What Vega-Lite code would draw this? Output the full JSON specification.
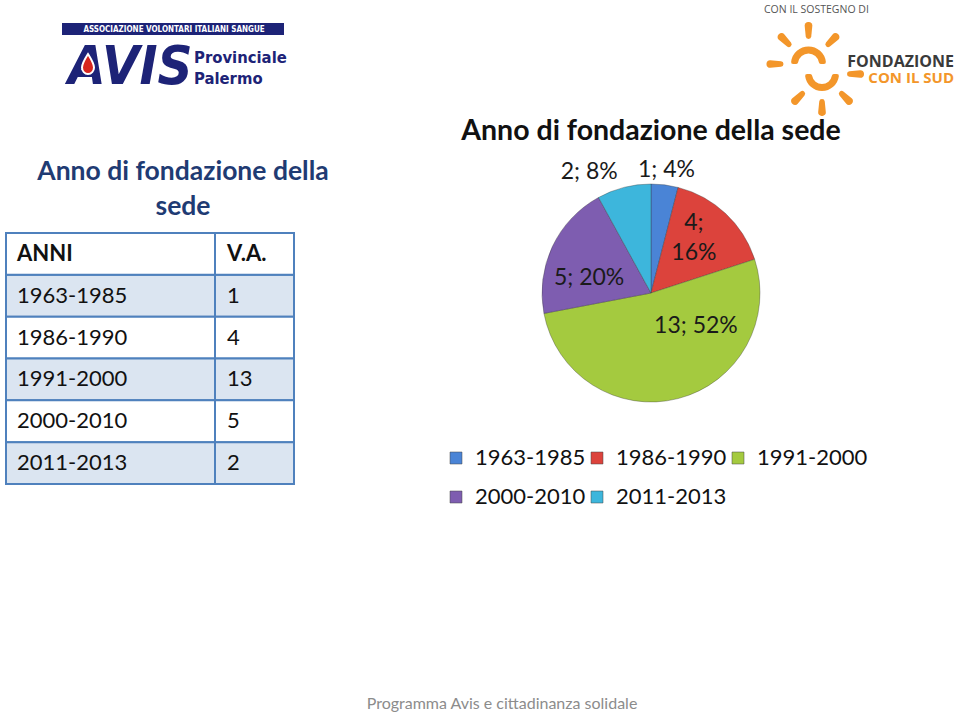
{
  "$schema": "https://vega.github.io/schema/vega-lite/v6.json",
  "padding": {"left": 5, "top": 0, "right": 0, "bottom": 0},
  "background": "white",
  "config": {"view": {"stroke": null}, "font": "Lato"},
  "datasets": {
    "dati": [
      {"anni": "1963-1985", "va": 1, "label": "1; 4%"},
      {"anni": "1986-1990", "va": 4, "label": "4; 16%"},
      {"anni": "1991-2000", "va": 13, "label": "13; 52%"},
      {"anni": "2000-2010", "va": 5, "label": "5; 20%"},
      {"anni": "2011-2013", "va": 2, "label": "2; 8%"}
    ],
    "raggi": [
      {"i": 0, "part": "ray", "v": 2}, {"i": 1, "part": "gap", "v": 5.854},
      {"i": 2, "part": "ray", "v": 2}, {"i": 3, "part": "gap", "v": 5.854},
      {"i": 4, "part": "ray", "v": 2}, {"i": 5, "part": "gap", "v": 5.854},
      {"i": 6, "part": "ray", "v": 2}, {"i": 7, "part": "gap", "v": 5.854}
    ]
  },
  "spacing": 0,
  "bounds": "flush",
  "hconcat": [
    {
      "width": 335,
      "height": 717,
      "layer": [
        {"data": {"values": [{}]}, "mark": {"type": "rect", "fill": "#1D2377"},
         "encoding": {"x": {"value": 56}, "x2": {"value": 278}, "y": {"value": 23}, "y2": {"value": 35}}},
        {"data": {"values": [{}]}, "mark": {"type": "text", "text": "ASSOCIAZIONE VOLONTARI ITALIANI SANGUE", "x": 168, "y": 29.5, "align": "center", "baseline": "middle", "fontSize": 8, "fontWeight": "bold", "fill": "#FFFFFF", "font": "DejaVu Sans Condensed, sans-serif"}},
        {"data": {"values": [{}]}, "mark": {"type": "text", "text": "AVIS", "x": 62, "y": 84, "align": "left", "baseline": "alphabetic", "fontSize": 54, "fontWeight": "bold", "fontStyle": "italic", "fill": "#1D2377", "font": "DejaVu Sans Condensed, sans-serif"}},
        {"data": {"values": [{}]}, "mark": {"type": "point", "filled": true, "fill": "#D7261E", "stroke": "#FFFFFF", "strokeWidth": 2, "opacity": 1, "size": 400, "x": 82, "y": 64,
          "shape": "M0,-1C0.35,-0.45,0.6,-0.05,0.6,0.35C0.6,0.72,0.33,1,0,1C-0.33,1,-0.6,0.72,-0.6,0.35C-0.6,-0.05,-0.35,-0.45,0,-1Z"}},
        {"data": {"values": [{}]}, "mark": {"type": "text", "text": "Provinciale", "x": 188, "y": 63, "align": "left", "baseline": "alphabetic", "fontSize": 16.5, "fontWeight": "bold", "fill": "#1D2377", "font": "DejaVu Sans Condensed, sans-serif"}},
        {"data": {"values": [{}]}, "mark": {"type": "text", "text": "Palermo", "x": 188, "y": 84, "align": "left", "baseline": "alphabetic", "fontSize": 16.5, "fontWeight": "bold", "fill": "#1D2377", "font": "DejaVu Sans Condensed, sans-serif"}},
        {"data": {"values": [{}]},
         "mark": {"type": "text", "text": ["Anno di fondazione della", "sede"], "x": 177, "y": 180, "align": "center", "baseline": "alphabetic", "fontSize": 26.5, "fontWeight": "bold", "fill": "#1F3B73", "lineHeight": 35}},
        {"data": {"name": "dati"},
         "mark": {"type": "rect", "stroke": "#4F81BD", "strokeWidth": 2},
         "encoding": {
           "x": {"value": 0}, "x2": {"value": 288},
           "y": {"field": "anni", "type": "nominal", "axis": null,
                 "scale": {"domain": ["ANNI", "1963-1985", "1986-1990", "1991-2000", "2000-2010", "2011-2013"], "range": [233, 484], "paddingInner": 0, "paddingOuter": 0}},
           "fill": {"condition": {"test": "datum.anni == '1963-1985' || datum.anni == '1991-2000' || datum.anni == '2011-2013'", "value": "#DBE5F1"}, "value": "#FFFFFF"}
         }},
        {"data": {"values": [{"anni": "ANNI", "va": "V.A."}]},
         "mark": {"type": "rect", "fill": "#FFFFFF", "stroke": "#4F81BD", "strokeWidth": 2},
         "encoding": {"x": {"value": 0}, "x2": {"value": 288}, "y": {"field": "anni", "type": "nominal"}}},
        {"data": {"values": [{}]},
         "mark": {"type": "rule", "stroke": "#4F81BD", "strokeWidth": 2},
         "encoding": {"x": {"value": 209}, "y": {"value": 233}, "y2": {"value": 484}}},
        {"data": {"name": "dati"},
         "mark": {"type": "text", "align": "left", "baseline": "middle", "fontSize": 22, "fill": "#111111", "x": 11},
         "encoding": {"y": {"field": "anni", "type": "nominal"}, "text": {"field": "anni", "type": "nominal"}}},
        {"data": {"name": "dati"},
         "mark": {"type": "text", "align": "left", "baseline": "middle", "fontSize": 22, "fill": "#111111", "x": 221},
         "encoding": {"y": {"field": "anni", "type": "nominal"}, "text": {"field": "va", "type": "quantitative"}}},
        {"data": {"values": [{"anni": "ANNI", "va": "V.A."}]},
         "mark": {"type": "text", "align": "left", "baseline": "middle", "fontSize": 22, "fontWeight": "bold", "fill": "#111111", "x": 11},
         "encoding": {"y": {"field": "anni", "type": "nominal"}, "text": {"field": "anni", "type": "nominal"}}},
        {"data": {"values": [{"anni": "ANNI", "va": "V.A."}]},
         "mark": {"type": "text", "align": "left", "baseline": "middle", "fontSize": 22, "fontWeight": "bold", "fill": "#111111", "x": 221},
         "encoding": {"y": {"field": "anni", "type": "nominal"}, "text": {"field": "va", "type": "nominal"}}}
      ]
    },
    {
      "width": 620,
      "height": 717,
      "resolve": {"scale": {"theta": "independent", "color": "independent"}},
      "layer": [
        {"data": {"values": [{}]}, "mark": {"type": "text", "text": "CON IL SOSTEGNO DI", "x": 423, "y": 10, "align": "left", "baseline": "middle", "fontSize": 10.5, "fill": "#555555", "font": "Open Sans"}},
        {"data": {"name": "raggi"},
         "mark": {"type": "arc", "innerRadius": 25, "outerRadius": 42, "cornerRadius": 3.5, "x": 467.5, "y": 64},
         "encoding": {
           "theta": {"field": "v", "type": "quantitative", "stack": true, "scale": {"range": [-1.6708, 1.4708]}},
           "order": {"field": "i", "type": "quantitative"},
           "detail": {"field": "i"},
           "fill": {"condition": {"test": "datum.part == 'ray'", "value": "#F3962A"}, "value": "transparent"}
         }},
        {"data": {"name": "raggi"},
         "mark": {"type": "arc", "innerRadius": 25, "outerRadius": 42, "cornerRadius": 3.5, "x": 481, "y": 74},
         "encoding": {
           "theta": {"field": "v", "type": "quantitative", "stack": true, "scale": {"range": [1.4708, 4.6124]}},
           "order": {"field": "i", "type": "quantitative"},
           "detail": {"field": "i"},
           "fill": {"condition": {"test": "datum.part == 'ray'", "value": "#F3962A"}, "value": "transparent"}
         }},
        {"data": {"values": [{}]}, "mark": {"type": "arc", "theta": -1.5708, "theta2": 1.5708, "innerRadius": 10.5, "outerRadius": 17.5, "cornerRadius": 2, "x": 467.5, "y": 64, "fill": "#F3962A"}, "encoding": {}},
        {"data": {"values": [{}]}, "mark": {"type": "arc", "theta": 1.5708, "theta2": 4.7124, "innerRadius": 10, "outerRadius": 17, "cornerRadius": 2, "x": 481, "y": 74, "fill": "#F3962A"}, "encoding": {}},
        {"data": {"values": [{}]}, "mark": {"type": "text", "text": "FONDAZIONE", "x": 613, "y": 67, "align": "right", "baseline": "alphabetic", "fontSize": 16, "fontWeight": "bold", "fill": "#3A3A3A", "font": "Open Sans"}},
        {"data": {"values": [{}]}, "mark": {"type": "text", "text": "CON IL SUD", "x": 613, "y": 83, "align": "right", "baseline": "alphabetic", "fontSize": 15, "fontWeight": "bold", "fill": "#F3962A", "font": "Open Sans"}},
        {"data": {"values": [{}]},
         "mark": {"type": "text", "text": "Anno di fondazione della sede", "x": 310, "y": 140, "align": "center", "baseline": "alphabetic", "fontSize": 28.5, "fontWeight": "bold", "fill": "#111111"}},
        {
          "data": {"name": "dati"},
          "encoding": {
            "theta": {"field": "va", "type": "quantitative", "stack": true},
            "order": {"field": "anni", "sort": "ascending"}
          },
          "layer": [
            {"mark": {"type": "arc", "outerRadius": 109, "x": 310, "y": 293, "stroke": "#333333", "strokeOpacity": 0.35, "strokeWidth": 1},
             "encoding": {
               "color": {"field": "anni", "type": "nominal",
                 "scale": {"domain": ["1963-1985", "1986-1990", "1991-2000", "2000-2010", "2011-2013"], "range": ["#4A84D6", "#DC433C", "#A4CA3F", "#7E5DB0", "#3DB6DC"]},
                 "legend": {"orient": "none", "legendX": 104, "legendY": 447, "direction": "horizontal", "columns": 3, "title": null,
                   "symbolType": "square", "symbolSize": 144, "symbolStrokeColor": "#444444", "symbolStrokeWidth": 0.5,
                   "labelFontSize": 22, "labelFont": "Lato", "labelColor": "#111111", "labelOffset": 8,
                   "columnPadding": 0, "rowPadding": 17, "padding": 0}
               }
             }},
            {"mark": {"type": "text", "x": 310, "y": 293, "radius": 124, "fontSize": 23, "fill": "#1A1A1A"},
             "encoding": {"detail": {"field": "anni"}, "text": {"field": "label"},
               "opacity": {"condition": {"test": "datum.anni == '1963-1985'", "value": 1}, "value": 0}}},
            {"mark": {"type": "text", "x": 310, "y": 293, "radius": 136, "dx": -28, "dy": 11, "fontSize": 23, "fill": "#1A1A1A"},
             "encoding": {"detail": {"field": "anni"}, "text": {"field": "label"},
               "opacity": {"condition": {"test": "datum.anni == '2011-2013'", "value": 1}, "value": 0}}},
            {"mark": {"type": "text", "x": 310, "y": 293, "radius": 70, "dx": -5, "dy": -19, "fontSize": 23, "fill": "#1A1A1A", "lineBreak": " ", "lineHeight": 30},
             "encoding": {"detail": {"field": "anni"}, "text": {"field": "label"},
               "opacity": {"condition": {"test": "datum.anni == '1986-1990'", "value": 1}, "value": 0}}},
            {"mark": {"type": "text", "x": 310, "y": 293, "radius": 64, "dx": -4, "dy": 12, "fontSize": 23, "fill": "#1A1A1A"},
             "encoding": {"detail": {"field": "anni"}, "text": {"field": "label"},
               "opacity": {"condition": {"test": "datum.anni == '2000-2010'", "value": 1}, "value": 0}}},
            {"mark": {"type": "text", "x": 310, "y": 293, "radius": 56, "dx": 31, "dy": -21, "fontSize": 23, "fill": "#1A1A1A"},
             "encoding": {"detail": {"field": "anni"}, "text": {"field": "label"},
               "opacity": {"condition": {"test": "datum.anni == '1991-2000'", "value": 1}, "value": 0}}}
          ]
        },
        {"data": {"values": [{}]},
         "mark": {"type": "text", "text": "Programma Avis e cittadinanza solidale", "x": 161, "y": 709, "align": "center", "baseline": "alphabetic", "fontSize": 16, "fill": "#8C8C8C"}}
      ]
    }
  ]
}
